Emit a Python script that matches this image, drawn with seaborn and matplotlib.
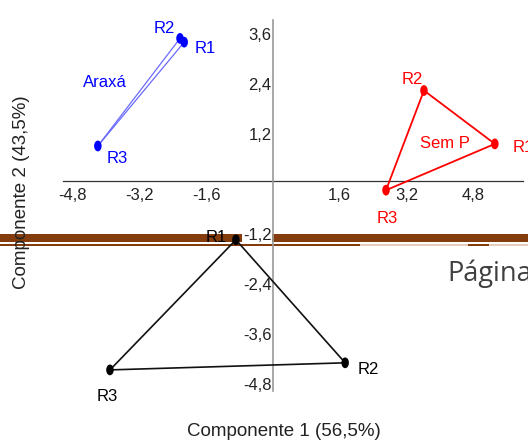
import numpy as np
import pandas as pd
import matplotlib
matplotlib.use('Agg')
import matplotlib.pyplot as plt
from matplotlib.path import Path
from matplotlib.patches import Rectangle
from matplotlib.transforms import ScaledTranslation
import seaborn as sns

sns.set_style('white')
plt.rcParams['font.family'] = ['Liberation Sans', 'DejaVu Sans']

# scores (R1, R2, R3) for each group
reps = ['R1', 'R2', 'R3']
araxa_x = [-2.13, -2.23, -4.20]
araxa_y = [3.33, 3.42, 0.84]
semp_x = [5.32, 3.62, 2.71]
semp_y = [0.89, 2.17, -0.22]
outro_x = [-0.89, 1.73, -3.91]
outro_y = [-1.41, -4.36, -4.53]

xticks = [-4.8, -3.2, -1.6, 1.6, 3.2, 4.8]
yticks = [-4.8, -3.6, -2.4, -1.2, 1.2, 2.4, 3.6]

COLORS = {'Araxá': '#0000FF', 'Sem P': '#FF0000', 'Outro': '#000000'}

df = pd.DataFrame({
    'grupo': ['Araxá'] * 3 + ['Sem P'] * 3 + ['Outro'] * 3,
    'rep': reps * 3,
    'x': araxa_x + semp_x + outro_x,
    'y': araxa_y + semp_y + outro_y,
})

fig = plt.figure(figsize=(5.28, 4.41), dpi=100)

# page-break artefact behind the chart
brown = '#843C0C'
tan = '#E3CDBE'
fig.add_artist(Rectangle((0, 1 - 241.7 / 441), 1, 7.7 / 441, transform=fig.transFigure,
                         facecolor=brown, edgecolor='none', zorder=-5))
for x0, x1, c in [(0, 360, brown), (360, 468, tan), (468, 489, brown), (489, 528, tan)]:
    fig.add_artist(Rectangle((x0 / 528, 1 - 245.7 / 441), (x1 - x0) / 528, 1.8 / 441,
                             transform=fig.transFigure, facecolor=c, edgecolor='none', zorder=-5))
fig.text(447 / 528, 1 - 281 / 441, 'Página', fontsize=19.5, color='#404040',
         family=['Open Sans', 'DejaVu Sans'], ha='left', va='baseline')

ax = fig.add_axes([63 / 528, 50 / 441, 460 / 528, 371 / 441])
ax.set_facecolor('none')
ax.set_xlim(-5.036, 5.995)
ax.set_ylim(-5.036, 3.861)

# triangle edges
blue_line = '#6a6aff'
for i, j in [(2, 1), (2, 0), (0, 1)]:
    ax.plot([araxa_x[i], araxa_x[j]], [araxa_y[i], araxa_y[j]], color=blue_line, lw=0.9, zorder=3)
ax.plot(semp_x + semp_x[:1], semp_y + semp_y[:1], color='#FF0000', lw=1.3, zorder=3)
ax.plot(outro_x + outro_x[:1], outro_y + outro_y[:1], color='#111111', lw=1.2, zorder=3)

# elliptic markers
circ = Path.unit_circle()
ellipse = Path(circ.vertices * np.array([0.7, 1.0]), circ.codes)
sns.scatterplot(data=df, x='x', y='y', hue='grupo', palette=COLORS, marker=ellipse,
                s=60, linewidth=0, legend=False, ax=ax, zorder=4)

# point labels (offsets in pixels)
offsets = {
    'Araxá': [(21, -6), (-16, 10), (19, -13)],
    'Sem P': [(18, -4), (-12, 11), (1, -28)],
    'Outro': [(-20, 2), (23, -7), (-3, -27)],
}
for g, xs, ys in [('Araxá', araxa_x, araxa_y), ('Sem P', semp_x, semp_y), ('Outro', outro_x, outro_y)]:
    for k, r in enumerate(reps):
        dx, dy = offsets[g][k]
        ha = 'left' if (g == 'Sem P' and r == 'R1') else 'center'
        ax.annotate(r, (xs[k], ys[k]), xytext=(dx, dy), textcoords='offset pixels',
                    ha=ha, va='center', fontsize=12, color=COLORS[g], annotation_clip=False, zorder=5)
ax.text(-4.03, 2.37, 'Araxá', color='#0000FF', fontsize=12, ha='center', va='center')
ax.text(4.12, 0.91, 'Sem P', color='#FF0000', fontsize=12, ha='center', va='center')

# axes through the origin
for s in ['top', 'right']:
    ax.spines[s].set_visible(False)
ax.spines['left'].set_position(('data', 0))
ax.spines['bottom'].set_position(('data', 0))
ax.spines['left'].set_color('#9a9a9a')
ax.spines['left'].set_linewidth(1.2)
ax.spines['bottom'].set_color('#333333')
ax.spines['bottom'].set_linewidth(0.9)
ax.spines['left'].set_zorder(2.6)

ax.set_xticks(xticks)
ax.set_xticklabels([f'{v:.1f}'.replace('.', ',') for v in xticks])
ax.set_yticks(yticks)
ax.set_yticklabels([f'{v:.1f}'.replace('.', ',') for v in yticks])
ax.tick_params(axis='x', length=2, color='#bbbbbb', direction='inout', pad=4, labelsize=12, labelcolor='#222222')
ax.tick_params(axis='y', length=0, pad=1, labelsize=12, labelcolor='#222222')
shift = ScaledTranslation(0, -3 / 100, fig.dpi_scale_trans)
for lbl in ax.get_yticklabels():
    lbl.set_bbox(dict(facecolor='white', edgecolor='none', pad=0.5))
    lbl.set_transform(lbl.get_transform() + shift)
ax.set_xlabel('')
ax.set_ylabel('')

fig.text(283.5 / 528, 1 - 432 / 441, 'Componente 1 (56,5%)', fontsize=13.5, color='#222222',
         ha='center', va='center')
fig.text(22 / 528, 1 - 192 / 441, 'Componente 2 (43,5%)', fontsize=13.5, color='#222222',
         ha='center', va='center', rotation=90)

fig.savefig('out.png', dpi=100)
